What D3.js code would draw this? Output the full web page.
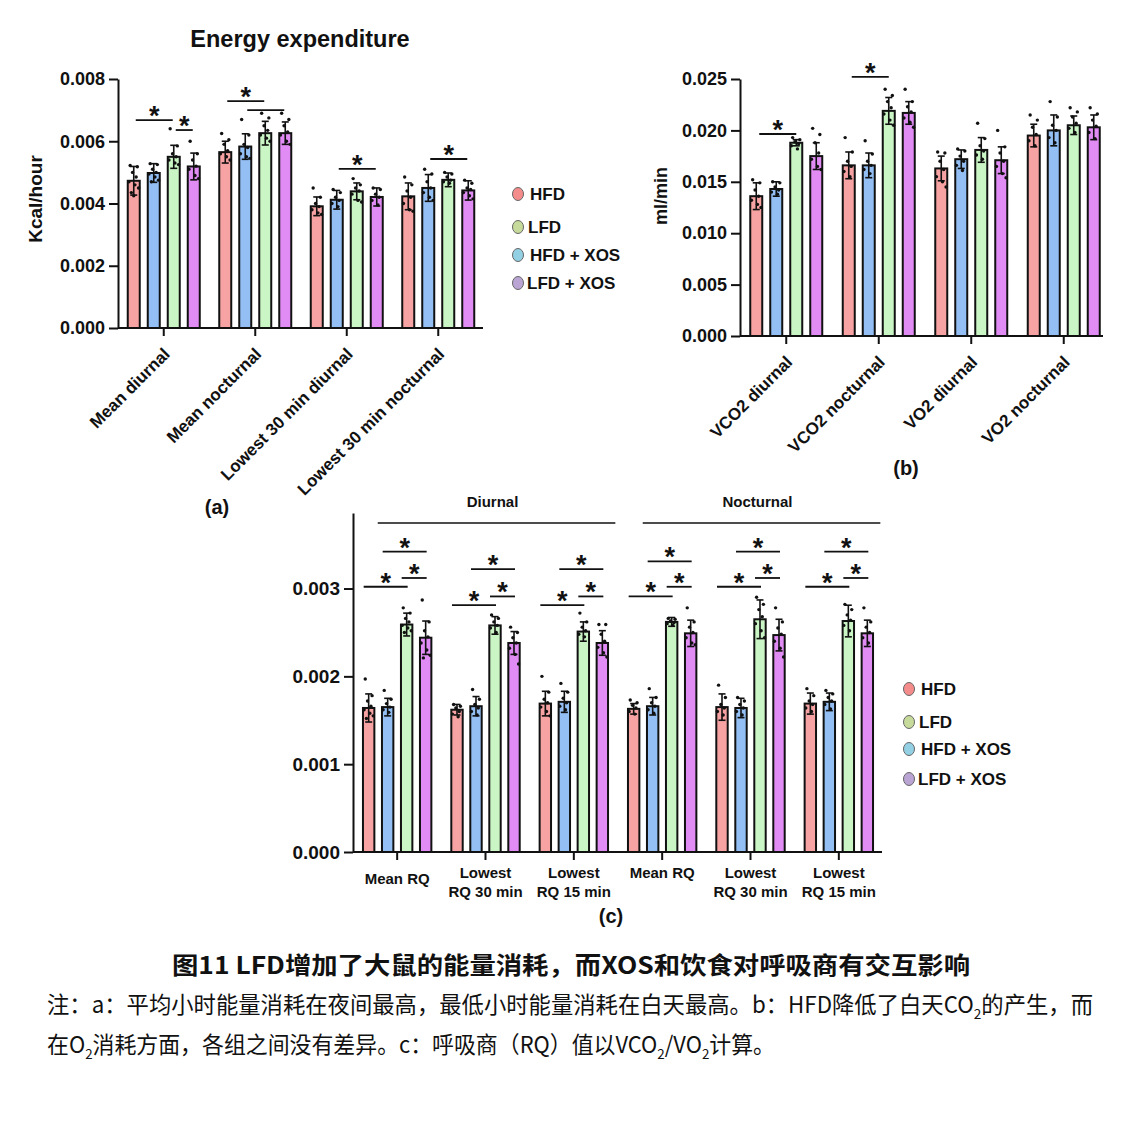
<!DOCTYPE html>
<html>
<head>
<meta charset="utf-8">
<script src="https://cdn.jsdelivr.net/npm/d3@7"></script>
<style>
  body { margin: 0; background: #fff; }
  text { font-family: "Liberation Sans", Arial, sans-serif; font-weight: bold; fill: #111; }
  .cap text { font-family: "Noto Sans CJK SC", sans-serif; }
  .cap text.note { font-weight: normal; }
</style>
</head>
<body>
<svg id="fig" width="1139" height="1128"></svg>
<script>
// bar order inside every cluster
var groups = ["HFD", "HFD + XOS", "LFD", "LFD + XOS"];
var barColors = ["#f7a3a3", "#93bff4", "#caf6c5", "#e18cf4"];
var legendNames = ["HFD", "LFD", "HFD + XOS", "LFD + XOS"];
var legendColors = ["#f58c8c", "#c6da9c", "#93d0e3", "#baa4d4"];

// (a) energy expenditure, Kcal/hour
var catsA = ["Mean diurnal", "Mean nocturnal", "Lowest 30 min diurnal", "Lowest 30 min nocturnal"];
var meanA = [[0.00473, 0.00498, 0.00550, 0.00519], [0.00565, 0.00583, 0.00626, 0.00626],
             [0.00391, 0.00412, 0.00439, 0.00421], [0.00423, 0.00450, 0.00476, 0.00442]];
var sdA = [[0.00046, 0.00030, 0.00037, 0.00043], [0.00035, 0.00041, 0.00038, 0.00036],
           [0.00030, 0.00030, 0.00027, 0.00029], [0.00043, 0.00043, 0.00022, 0.00031]];
// individual animals, in 1e-3 units
var dotsA = [
  [[5.22, 5.18, 5.0, 4.85, 4.7, 4.6, 4.5, 4.35, 4.25], [5.28, 5.25, 5.1, 5.0, 4.95, 4.85, 4.75, 4.7],
   [6.4, 5.85, 5.6, 5.5, 5.4, 5.3, 5.25], [6.0, 5.6, 5.4, 5.2, 5.1, 4.9, 4.8]],
  [[6.25, 6.05, 5.9, 5.7, 5.6, 5.5, 5.4], [6.7, 6.2, 5.9, 5.8, 5.6, 5.5, 5.45],
   [6.9, 6.75, 6.5, 6.35, 6.2, 6.1, 6.0], [6.9, 6.7, 6.5, 6.3, 6.2, 6.0, 5.9]],
  [[4.5, 4.2, 4.0, 3.9, 3.8, 3.7, 3.65], [4.45, 4.35, 4.2, 4.1, 4.0, 3.9],
   [4.8, 4.6, 4.5, 4.4, 4.3, 4.1, 4.05], [4.5, 4.45, 4.3, 4.2, 4.1, 3.95]],
  [[4.85, 4.6, 4.4, 4.2, 4.0, 3.8, 3.75], [5.1, 4.95, 4.7, 4.5, 4.35, 4.2, 4.1],
   [5.0, 4.95, 4.85, 4.75, 4.7, 4.65], [4.75, 4.65, 4.5, 4.45, 4.35, 4.25, 4.15]]
];
var ticksA = [0, 0.002, 0.004, 0.006, 0.008];
// [cluster, from bar, to bar, level, star]
var sigA = [[0, 0, 2, 0.00668, 1], [0, 2, 3, 0.00636, 1], [1, 0, 2, 0.00729, 1], [1, 1, 3, 0.00700, 0],
            [2, 1, 3, 0.00511, 1], [3, 1, 3, 0.00543, 1]];

// (b) VCO2 / VO2, ml/min
var catsB = ["VCO2 diurnal", "VCO2 nocturnal", "VO2 diurnal", "VO2 nocturnal"];
var meanB = [[0.0136, 0.0143, 0.0188, 0.0175], [0.0166, 0.0166, 0.0219, 0.0217],
             [0.0163, 0.0172, 0.0181, 0.0171], [0.0195, 0.0200, 0.0205, 0.0203]];
var sdB = [[0.0013, 0.0007, 0.0003, 0.0013], [0.0013, 0.0012, 0.0013, 0.0011],
           [0.0012, 0.0009, 0.0012, 0.0013], [0.0011, 0.0015, 0.0009, 0.0012]];
var dotsB = [
  [[15.2, 14.9, 14.2, 13.6, 13.2, 12.8, 12.5], [15.0, 14.9, 14.5, 14.2, 14.0, 13.8],
   [19.3, 19.1, 18.9, 18.7, 18.5, 18.2], [20.2, 19.6, 18.8, 17.8, 17.2, 16.5, 16.2]],
  [[19.3, 17.9, 17.0, 16.5, 16.0, 15.5], [19.0, 17.7, 17.0, 16.6, 16.2, 15.8],
   [24.0, 23.4, 22.8, 22.2, 21.6, 21.0, 20.5], [24.0, 22.8, 22.3, 21.8, 21.2, 20.8, 20.3]],
  [[17.9, 17.8, 17.0, 16.2, 15.5, 15.0, 14.5], [18.2, 18.0, 17.5, 17.0, 16.6, 16.1],
   [20.7, 19.2, 18.5, 18.0, 17.6, 17.2], [20.0, 18.4, 17.8, 17.0, 16.5, 15.8, 15.4]],
  [[21.5, 21.0, 20.3, 19.6, 19.0, 18.5], [22.8, 21.3, 20.5, 20.0, 19.3, 18.8],
   [22.2, 21.8, 21.3, 20.7, 20.2, 19.8], [22.2, 21.6, 21.0, 20.4, 19.8, 19.2]]
];
var ticksB = [0, 0.005, 0.010, 0.015, 0.020, 0.025];
var sigB = [[0, 0, 2, 0.01965, 1], [1, 0, 2, 0.0252, 1]];

// (c) respiratory quotient
var catsC = [["Mean RQ"], ["Lowest", "RQ 30 min"], ["Lowest", "RQ 15 min"],
             ["Mean RQ"], ["Lowest", "RQ 30 min"], ["Lowest", "RQ 15 min"]];
var meanC = [[0.00164, 0.00165, 0.00259, 0.00244], [0.00162, 0.00166, 0.00258, 0.00238],
             [0.00169, 0.00171, 0.00251, 0.00238], [0.00163, 0.00166, 0.00262, 0.00249],
             [0.00165, 0.00164, 0.00265, 0.00247], [0.00169, 0.00171, 0.00263, 0.00249]];
var sdC = [[0.00016, 0.00010, 0.00013, 0.00019], [0.00006, 0.00011, 0.00010, 0.00013],
           [0.00014, 0.00012, 0.00011, 0.00014], [0.00006, 0.00010, 0.00005, 0.00015],
           [0.00015, 0.00011, 0.00022, 0.00018], [0.00012, 0.00010, 0.00018, 0.00015]];
var dotsC = [
  [[1.97, 1.78, 1.72, 1.66, 1.62, 1.58, 1.55, 1.52], [1.84, 1.74, 1.69, 1.65, 1.62, 1.59],
   [2.78, 2.72, 2.66, 2.62, 2.58, 2.55, 2.52, 2.50], [2.87, 2.62, 2.52, 2.45, 2.38, 2.30, 2.24, 2.21]],
  [[1.68, 1.66, 1.64, 1.60, 1.57, 1.54], [1.85, 1.74, 1.68, 1.64, 1.60, 1.56],
   [2.70, 2.66, 2.62, 2.58, 2.55, 2.50], [2.56, 2.50, 2.44, 2.38, 2.32, 2.25, 2.14]],
  [[2.00, 1.82, 1.74, 1.70, 1.65, 1.60, 1.55], [1.92, 1.82, 1.75, 1.70, 1.66, 1.62],
   [2.72, 2.62, 2.56, 2.52, 2.48, 2.45], [2.59, 2.59, 2.48, 2.40, 2.33, 2.27, 2.22]],
  [[1.73, 1.70, 1.67, 1.64, 1.60, 1.57], [1.86, 1.76, 1.70, 1.66, 1.62, 1.58],
   [2.66, 2.65, 2.63, 2.61, 2.60, 2.58], [2.78, 2.62, 2.56, 2.50, 2.44, 2.38, 2.36]],
  [[1.90, 1.76, 1.68, 1.64, 1.60, 1.56], [1.76, 1.72, 1.68, 1.64, 1.60, 1.56],
   [2.90, 2.82, 2.76, 2.68, 2.60, 2.52, 2.44], [2.78, 2.62, 2.55, 2.48, 2.40, 2.32, 2.22]],
  [[1.86, 1.78, 1.72, 1.68, 1.64, 1.60], [1.84, 1.80, 1.76, 1.72, 1.68, 1.63],
   [2.82, 2.76, 2.70, 2.64, 2.58, 2.52], [2.78, 2.62, 2.56, 2.50, 2.44, 2.38]]
];
var ticksC = [0, 0.001, 0.002, 0.003];
var sigC = [[0, 0, 2, 0.00302, 1], [0, 2, 3, 0.00312, 1], [0, 1, 3, 0.00342, 1],
            [1, 0, 2, 0.00281, 1], [1, 2, 3, 0.00291, 1], [1, 1, 3, 0.00322, 1],
            [2, 0, 2, 0.00281, 1], [2, 2, 3, 0.00291, 1], [2, 1, 3, 0.00322, 1],
            [3, 0, 2, 0.00291, 1], [3, 2, 3, 0.00302, 1], [3, 1, 3, 0.00331, 1],
            [4, 0, 2, 0.00302, 1], [4, 2, 3, 0.00312, 1], [4, 1, 3, 0.00342, 1],
            [5, 0, 2, 0.00302, 1], [5, 2, 3, 0.00312, 1], [5, 1, 3, 0.00342, 1]];
var periods = [["Diurnal", 0, 2], ["Nocturnal", 3, 5]];

var jitter = [-3, 3, -1, 2, -4, 1, 4, -2, 0];

var svg = d3.select("#fig");

function drawPanel(p) {
  var g = svg.append("g");
  var ids = d3.range(p.means.length);
  var x = d3.scaleBand().domain(ids).range(p.xRange);
  var xi = d3.scaleBand().domain(d3.range(4)).range([-2 * p.pitch, 2 * p.pitch]).paddingInner(0.4).paddingOuter(0.2);
  var y = d3.scaleLinear().domain(p.yDomain).range(p.yRange);
  var bw = xi.bandwidth();
  function cx(c, k) { return x(c) + x.bandwidth() / 2 + xi(k) + bw / 2; }

  var bars = [];
  p.means.forEach(function(row, c) {
    row.forEach(function(v, k) {
      bars.push({c: c, k: k, v: v, sd: p.sds[c][k], dots: p.dots[c][k]});
    });
  });

  g.selectAll(".bar").data(bars).enter().append("rect")
    .attr("x", function(d) { return cx(d.c, d.k) - bw / 2; })
    .attr("y", function(d) { return y(d.v); })
    .attr("width", bw)
    .attr("height", function(d) { return y(0) - y(d.v); })
    .attr("fill", function(d) { return barColors[d.k]; })
    .attr("stroke", "#111").attr("stroke-width", 2);

  // dots
  bars.forEach(function(d) {
    g.selectAll(null).data(d.dots).enter().append("circle")
      .attr("cx", function(v, i) { return cx(d.c, d.k) + jitter[i % jitter.length] * bw / 10; })
      .attr("cy", function(v) { return y(v * 1e-3); })
      .attr("r", 1.7).attr("fill", "#111");
  });

  // SD bars
  var eb = g.selectAll(".eb").data(bars).enter().append("g");
  eb.append("line")
    .attr("x1", function(d) { return cx(d.c, d.k); }).attr("x2", function(d) { return cx(d.c, d.k); })
    .attr("y1", function(d) { return y(d.v - d.sd); }).attr("y2", function(d) { return y(d.v + d.sd); });
  eb.append("line")
    .attr("x1", function(d) { return cx(d.c, d.k) - 3.5; }).attr("x2", function(d) { return cx(d.c, d.k) + 3.5; })
    .attr("y1", function(d) { return y(d.v + d.sd); }).attr("y2", function(d) { return y(d.v + d.sd); });
  eb.append("line")
    .attr("x1", function(d) { return cx(d.c, d.k) - 3.5; }).attr("x2", function(d) { return cx(d.c, d.k) + 3.5; })
    .attr("y1", function(d) { return y(d.v - d.sd); }).attr("y2", function(d) { return y(d.v - d.sd); });
  eb.selectAll("line").attr("stroke", "#111").attr("stroke-width", 1.6);

  // axes
  var ya = g.append("g").attr("transform", "translate(" + p.xRange[0] + ",0)")
    .call(d3.axisLeft(y).tickValues(p.ticks).tickFormat(d3.format(".3f")).tickSize(9).tickSizeOuter(0));
  ya.selectAll("text").attr("font-size", p.tickFont).attr("dx", "-1");
  var xa = g.append("g").attr("transform", "translate(0," + p.yRange[0] + ")")
    .call(d3.axisBottom(x).tickSize(8).tickSizeOuter(0).tickFormat(""));
  xa.select(".domain").attr("d", "M" + p.xRange[0] + ",0H" + p.xEnd);
  g.selectAll(".domain, .tick line").attr("stroke", "#111").attr("stroke-width", 2);

  // category labels
  if (p.rotate) {
    ids.forEach(function(c) {
      g.append("text")
        .attr("transform", "translate(" + (x(c) + x.bandwidth() / 2 + 3) + "," + (p.yRange[0] + 23) + ") rotate(-45)")
        .attr("text-anchor", "end").attr("dy", "0.35em").attr("font-size", 17)
        .text(p.cats[c]);
    });
  } else {
    ids.forEach(function(c) {
      var lines = p.cats[c];
      var t = g.append("text").attr("text-anchor", "middle").attr("font-size", 15);
      lines.forEach(function(s, i) {
        t.append("tspan").attr("x", x(c) + x.bandwidth() / 2)
          .attr("y", p.yRange[0] + (lines.length == 1 ? (c == 0 ? 32 : 26) : 26 + i * 19))
          .text(s);
      });
    });
  }

  // significance
  p.sig.forEach(function(s) {
    var x1 = cx(s[0], s[1]) + p.sigOff[0], x2 = cx(s[0], s[2]) + p.sigOff[1];
    g.append("line").attr("x1", x1).attr("x2", x2).attr("y1", y(s[3])).attr("y2", y(s[3]))
      .attr("stroke", "#111").attr("stroke-width", 1.8);
    if (s[4]) {
      g.append("text").attr("x", (x1 + x2) / 2).attr("y", y(s[3]) + 5)
        .attr("text-anchor", "middle").attr("font-size", 27).text("*");
    }
  });
  return {x: x, y: y};
}

function legend(x0, ys, tx) {
  var lg = svg.append("g");
  legendNames.forEach(function(n, i) {
    lg.append("ellipse").attr("cx", x0).attr("cy", ys[i]).attr("rx", 5.5).attr("ry", 6.5)
      .attr("fill", legendColors[i]).attr("stroke", "#666").attr("stroke-width", 1);
    lg.append("text").attr("x", tx[i]).attr("y", ys[i]).attr("dy", "0.36em").attr("font-size", 17).text(n);
  });
}

// (a)
drawPanel({cats: catsA, means: meanA, sds: sdA, dots: dotsA, ticks: ticksA, sig: sigA,
  yDomain: [0, 0.008], yRange: [328, 79], xRange: [118, 484], xEnd: 483, pitch: 20,
  sigOff: [2, -1], rotate: true, tickFont: 18});
svg.append("text").attr("x", 300).attr("y", 47).attr("text-anchor", "middle").attr("font-size", 23.5).text("Energy expenditure");
svg.append("text").attr("transform", "translate(42,199) rotate(-90)").attr("text-anchor", "middle").attr("font-size", 19).text("Kcal/hour");
svg.append("text").attr("x", 217).attr("y", 514).attr("text-anchor", "middle").attr("font-size", 20).text("(a)");
legend(518, [194, 227, 255, 283], [530, 528, 530, 527]);

// (b)
drawPanel({cats: catsB, means: meanB, sds: sdB, dots: dotsB, ticks: ticksB, sig: sigB,
  yDomain: [0, 0.025], yRange: [336, 79], xRange: [740, 1110], xEnd: 1103, pitch: 20,
  sigOff: [3, 0], rotate: true, tickFont: 18});
svg.append("text").attr("transform", "translate(667,196) rotate(-90)").attr("text-anchor", "middle").attr("font-size", 18).text("ml/min");
svg.append("text").attr("x", 906).attr("y", 475).attr("text-anchor", "middle").attr("font-size", 20).text("(b)");

// (c)
var sc = drawPanel({cats: catsC, means: meanC, sds: sdC, dots: dotsC, ticks: ticksC, sig: sigC,
  yDomain: [0, 0.00386], yRange: [852, 513], xRange: [353, 883], xEnd: 882, pitch: 19,
  sigOff: [-5, 1], rotate: false, tickFont: 19});
periods.forEach(function(pr) {
  var bwC = sc.x.bandwidth();
  var x1 = sc.x(pr[1]) + bwC * 0.28, x2 = sc.x(pr[2]) + bwC * 0.97;
  svg.append("line").attr("x1", x1).attr("x2", x2).attr("y1", 523).attr("y2", 523)
    .attr("stroke", "#111").attr("stroke-width", 1.3);
  svg.append("text").attr("x", (x1 + x2) / 2 - 4).attr("y", 507)
    .attr("text-anchor", "middle").attr("font-size", 15).text(pr[0]);
});
svg.append("text").attr("x", 611).attr("y", 923).attr("text-anchor", "middle").attr("font-size", 20).text("(c)");
legend(909, [689, 722, 749, 779], [921, 919, 921, 918]);

// caption
var cap = svg.append("g").attr("class", "cap");
cap.append("text").attr("x", 571).attr("y", 974).attr("text-anchor", "middle").attr("font-size", 24)
  .attr("textLength", 798).attr("lengthAdjust", "spacingAndGlyphs")
  .text("图11 LFD增加了大鼠的能量消耗，而XOS和饮食对呼吸商有交互影响");
var l1 = cap.append("text").attr("class", "note").attr("x", 47).attr("y", 1013).attr("font-size", 23)
  .attr("textLength", 1046).attr("lengthAdjust", "spacingAndGlyphs");
l1.append("tspan").text("注：a：平均小时能量消耗在夜间最高，最低小时能量消耗在白天最高。b：HFD降低了白天CO");
l1.append("tspan").attr("dy", 6).attr("font-size", 14).text("2");
l1.append("tspan").attr("dy", -6).text("的产生，而");
var l2 = cap.append("text").attr("class", "note").attr("x", 47).attr("y", 1053).attr("font-size", 23)
  .attr("textLength", 728).attr("lengthAdjust", "spacingAndGlyphs");
l2.append("tspan").text("在O");
l2.append("tspan").attr("dy", 6).attr("font-size", 14).text("2");
l2.append("tspan").attr("dy", -6).text("消耗方面，各组之间没有差异。c：呼吸商（RQ）值以VCO");
l2.append("tspan").attr("dy", 6).attr("font-size", 14).text("2");
l2.append("tspan").attr("dy", -6).text("/VO");
l2.append("tspan").attr("dy", 6).attr("font-size", 14).text("2");
l2.append("tspan").attr("dy", -6).text("计算。");
</script>
</body>
</html>
